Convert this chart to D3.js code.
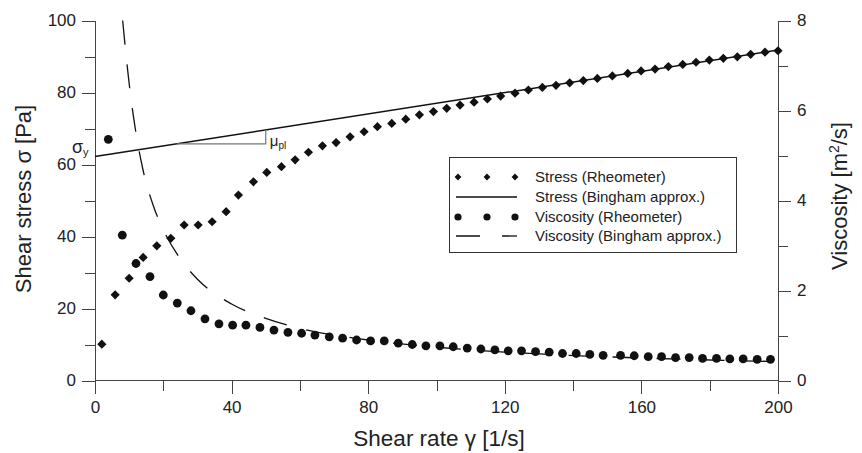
<!DOCTYPE html>
<html lang="en">
<head>
    <meta charset="UTF-8">
    <title>Bingham fit</title>
    <script src="https://d3js.org/d3.v7.min.js"></script>
    <style>
        body {margin: 0; background: #fff;}
        svg text {font-family: "Liberation Sans", Arial, sans-serif; fill: #222;}
        .axis path, .axis line {stroke: #444; shape-rendering: crispEdges;}
        .axis text {font-size: 17px; fill: #222;}
    </style>
</head>
<body>
<script>
    const width  = 862;
    const height = 453;

    // stress measured by the rheometer [Pa]
    const stressRate = [2, 5.9, 10, 14.1, 18.1, 22.2, 26.1, 30.2, 34.3, 38.4, 42.0, 46.4, 50.3, 54.6, 58.6,
        62.5, 66.6, 70.6, 74.7, 78.8, 82.7, 86.9, 91.0, 95.0, 99.1, 103.0, 106.9, 111.0, 114.9, 118.8,
        123.0, 126.9, 131.0, 135.0, 139.0, 143.0, 147.1, 151.5, 156.0, 159.9, 164.0, 167.9, 172.1, 176.0,
        179.9, 184.0, 188.1, 192.0, 196.2, 200];
    const stressVal = [10.1, 23.8, 28.4, 34.2, 37.4, 39.5, 43.2, 43.2, 44.1, 46.9, 51.5, 55.2, 57.8, 59.4, 61.3,
        63.4, 65.2, 66.1, 67.7, 69.1, 70.5, 71.4, 72.6, 73.8, 74.7, 75.6, 76.5, 77.3, 78.2, 79.0,
        79.8, 80.7, 81.4, 82.0, 82.7, 83.3, 83.9, 84.6, 85.3, 86.0, 86.5, 87.2, 87.8, 88.4,
        89.0, 89.5, 89.9, 90.6, 91.2, 91.6];

    // viscosity measured by the rheometer [m²/s]
    const viscRate = [3.9, 8.0, 12.0, 16.1, 20.0, 24.1, 28.1, 32.2, 36.3, 40.3, 44.2, 48.3, 52.4, 56.5, 60.5,
        64.4, 68.6, 72.5, 76.6, 80.7, 84.7, 88.8, 92.9, 96.9, 101.0, 104.9, 109.0, 113.0, 117.1, 121.0,
        124.9, 129.0, 133.0, 136.9, 140.9, 144.9, 148.8, 153.9, 157.9, 162.0, 165.9, 170.0, 174.0, 177.9,
        182.0, 185.9, 189.8, 193.9, 197.8];
    const viscVal = [5.36, 3.23, 2.60, 2.31, 1.90, 1.72, 1.55, 1.37, 1.26, 1.23, 1.23, 1.18, 1.12, 1.07, 1.05,
        1.01, 0.97, 0.94, 0.90, 0.88, 0.88, 0.83, 0.80, 0.77, 0.77, 0.75, 0.72, 0.70, 0.68, 0.66,
        0.66, 0.64, 0.63, 0.60, 0.60, 0.58, 0.56, 0.56, 0.55, 0.53, 0.53, 0.51, 0.51, 0.49, 0.49,
        0.48, 0.48, 0.47, 0.47];

    // Bingham approximation
    const binghamStressRate = [0, 200];
    const binghamStressVal  = [62.2, 91.8];
    const binghamViscRate = [8.1, 9, 10, 12, 14, 17, 20, 25, 30, 40, 50, 60, 80, 100, 130, 160, 200];
    const binghamViscVal  = [8.0, 7.3, 6.6, 5.5, 4.7, 3.9, 3.35, 2.7, 2.25, 1.7, 1.38, 1.16, 0.9, 0.74, 0.59, 0.5, 0.42];

    // slope triangle for mu_pl
    const slopeRate = [24, 50];

    const xTicks = [0, 40, 80, 120, 160, 200];
    const xMinor = [20, 60, 100, 140, 180];
    const yTicks = [0, 20, 40, 60, 80, 100];
    const yMinor = [10, 30, 50, 70, 90];
    const y2Ticks = [0, 2, 4, 6, 8];
    const y2Minor = [1, 3, 5, 7];

    const legendItems = ["Stress (Rheometer)", "Stress (Bingham approx.)",
                         "Viscosity (Rheometer)", "Viscosity (Bingham approx.)"];

    const x  = d3.scaleLinear().domain([0, 200]).range([95, 778]);
    const y  = d3.scaleLinear().domain([0, 100]).range([380.5, 20.5]);
    const y2 = d3.scaleLinear().domain([0, 8]).range([380.5, 20.5]);

    const svg = d3.select("body").append("svg").attr("width", width).attr("height", height);

    // axes
    const axes = svg.append("g").attr("class", "axis");
    const left = axes.append("g").attr("transform", "translate(95,0)")
        .call(d3.axisLeft(y).tickValues(yTicks).tickSize(13).tickPadding(6));
    axes.append("g").attr("transform", "translate(95,0)")
        .call(d3.axisLeft(y).tickValues(yMinor).tickSize(10).tickFormat(""));
    const right = axes.append("g").attr("transform", "translate(778,0)")
        .call(d3.axisRight(y2).tickValues(y2Ticks).tickSize(13).tickPadding(6));
    axes.append("g").attr("transform", "translate(778,0)")
        .call(d3.axisRight(y2).tickValues(y2Minor).tickSize(10).tickFormat(""));
    const bottom = axes.append("g").attr("transform", "translate(0,380.5)")
        .call(d3.axisBottom(x).tickValues(xTicks).tickSize(13).tickPadding(7));
    axes.append("g").attr("transform", "translate(0,380.5)")
        .call(d3.axisBottom(x).tickValues(xMinor).tickSize(10).tickFormat(""));
    // plain spines, no end caps
    axes.selectAll("path.domain").remove();
    left.append("path").attr("d", "M0,20.5V380.5").attr("stroke", "#444");
    right.append("path").attr("d", "M0,20.5V380.5").attr("stroke", "#444");
    bottom.append("path").attr("d", "M95,0H778").attr("stroke", "#111");

    // axis titles
    svg.append("text").attr("x", 439).attr("y", 446).attr("text-anchor", "middle")
        .style("font-size", "22.5px").text("Shear rate γ [1/s]");
    svg.append("text").attr("transform", "translate(31,199) rotate(-90)").attr("text-anchor", "middle")
        .style("font-size", "22px").text("Shear stress σ [Pa]");
    const t2 = svg.append("text").attr("transform", "translate(847,196) rotate(-90)").attr("text-anchor", "middle")
        .style("font-size", "22px");
    t2.append("tspan").text("Viscosity [m");
    t2.append("tspan").attr("dy", -8).style("font-size", "14px").text("2");
    t2.append("tspan").attr("dy", 8).text("/s]");

    // Bingham viscosity (dashed)
    const viscLine = d3.line().x(d => x(d[0])).y(d => y2(d[1])).curve(d3.curveMonotoneX);
    svg.append("path")
        .attr("d", viscLine(d3.zip(binghamViscRate, binghamViscVal)))
        .attr("fill", "none").attr("stroke", "#111").attr("stroke-width", 1.3)
        .attr("stroke-dasharray", "24,20");

    // Bingham stress (solid)
    const stressLine = d3.line().x(d => x(d[0])).y(d => y(d[1]));
    svg.append("path")
        .attr("d", stressLine(d3.zip(binghamStressRate, binghamStressVal)))
        .attr("fill", "none").attr("stroke", "#111").attr("stroke-width", 1.5);

    // slope triangle
    const bingham = d3.scaleLinear().domain(binghamStressRate).range(binghamStressVal);
    svg.append("path")
        .attr("d", d3.line()([
            [x(slopeRate[0]), y(bingham(slopeRate[0]))],
            [x(slopeRate[1]), y(bingham(slopeRate[0]))],
            [x(slopeRate[1]), y(bingham(slopeRate[1]))]
        ]))
        .attr("fill", "none").attr("stroke", "#777").attr("stroke-width", 1.2);

    const mu = svg.append("text").attr("x", x(slopeRate[1]) + 4).attr("y", 146).style("font-size", "15px");
    mu.append("tspan").text("μ");
    mu.append("tspan").attr("dy", 3).style("font-size", "10px").text("pl");

    const sig = svg.append("text").attr("x", 72).attr("y", 153).style("font-size", "18px");
    sig.append("tspan").text("σ");
    sig.append("tspan").attr("dy", 3).style("font-size", "11px").text("y");

    // markers
    const diamond = d3.symbol().type(d3.symbolDiamond2).size(54);
    svg.append("g").selectAll("path")
        .data(d3.zip(stressRate, stressVal))
        .join("path")
        .attr("d", diamond)
        .attr("transform", d => `translate(${x(d[0])},${y(d[1])})`)
        .attr("fill", "#111");

    svg.append("g").selectAll("circle")
        .data(d3.zip(viscRate, viscVal))
        .join("circle")
        .attr("cx", d => x(d[0])).attr("cy", d => y2(d[1])).attr("r", 4.4)
        .attr("fill", "#111");

    // legend
    const lg = svg.append("g");
    lg.append("rect").attr("x", 449.5).attr("y", 157.5).attr("width", 287).attr("height", 95)
        .attr("fill", "#fff").attr("stroke", "#333");
    const rows = [177, 197, 217, 236];
    const sx = [458, 487, 515];
    sx.forEach(px => {
        lg.append("path").attr("d", d3.symbol().type(d3.symbolDiamond2).size(30))
            .attr("transform", `translate(${px},${rows[0]})`).attr("fill", "#111");
        lg.append("circle").attr("cx", px).attr("cy", rows[2]).attr("r", 3.6).attr("fill", "#111");
    });
    lg.append("line").attr("x1", 456).attr("x2", 517).attr("y1", rows[1]).attr("y2", rows[1])
        .attr("stroke", "#111").attr("stroke-width", 1.3);
    lg.append("line").attr("x1", 456).attr("x2", 517).attr("y1", rows[3]).attr("y2", rows[3])
        .attr("stroke", "#111").attr("stroke-width", 1.3).attr("stroke-dasharray", "24,22");
    legendItems.forEach((s, i) => {
        lg.append("text").attr("x", 535).attr("y", rows[i] + 5).style("font-size", "15px").text(s);
    });
</script>
</body>
</html>
